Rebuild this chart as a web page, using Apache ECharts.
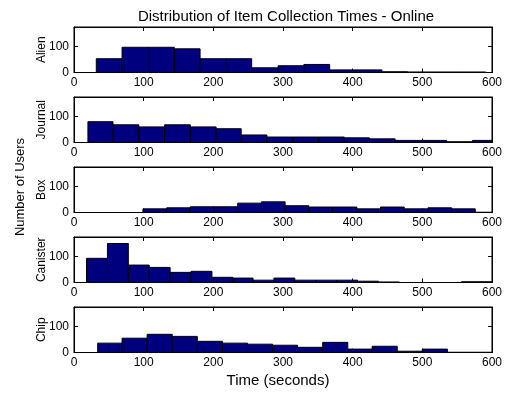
<!DOCTYPE html>
<html><head><meta charset="utf-8">
<script src="https://cdn.jsdelivr.net/npm/echarts@6/dist/echarts.min.js"></script>
<style>html,body{margin:0;padding:0;background:#fff}#c{width:505px;height:394px}</style>
</head><body><div id="c"></div>
<script>
// ---- data (seconds / counts) ----
const xTickValues = [0, 100, 200, 300, 400, 500, 600];
const yTickValues = [0, 100];
const panelNames = ['Alien', 'Journal', 'Box', 'Canister', 'Chip'];

const alienEdges = [32, 69, 106, 144, 181, 218, 255, 293, 330, 367, 405, 442, 479, 517, 554, 591];
const alienCounts = [53, 97, 97, 91, 53, 53, 18, 26, 31, 10, 10, 3, 2, 2, 2];

const journalEdges = [20, 56, 93, 130, 167, 204, 240, 277, 314, 351, 388, 424, 461, 498, 535, 572, 608];
const journalCounts = [80, 68, 60, 68, 60, 53, 29, 21, 21, 21, 18, 14, 8, 8, 3, 8];

const boxEdges = [99, 133, 167, 201, 235, 269, 303, 337, 371, 406, 440, 474, 508, 542, 576, 610];
const boxCounts = [14, 18, 22, 22, 36, 41, 26, 21, 21, 14, 21, 14, 18, 14, 1];

const canisterEdges = [18, 48, 78, 108, 138, 168, 198, 228, 257, 287, 317, 347, 377, 407, 437, 467, 497, 527, 556, 586, 616];
const canisterCounts = [93, 150, 67, 58, 39, 43, 20, 17, 9, 17, 9, 9, 9, 5, 2, 0, 0, 0, 3, 3];

const chipEdges = [34, 69, 105, 141, 177, 213, 249, 285, 321, 357, 393, 428, 464, 500, 536, 572, 608];
const chipCounts = [36, 55, 70, 62, 43, 36, 32, 28, 20, 39, 13, 24, 5, 13, 1, 1];

const panelEdges = [alienEdges, journalEdges, boxEdges, canisterEdges, chipEdges];
const panelCounts = [alienCounts, journalCounts, boxCounts, canisterCounts, chipCounts];

// ---- layout / style ----
const FF = '"Liberation Sans", Arial, Helvetica, sans-serif';
const tops = [27, 97, 167, 237, 307];
const H = 45.5;
const BAR = '#00007F';

const chart = echarts.init(document.getElementById('c'), null, {renderer: 'canvas'});
const grid = [], xAxis = [], yAxis = [], series = [];

function renderItem(params, api) {
  const a = api.coord([api.value(0), 0]);
  const b = api.coord([api.value(1), api.value(2)]);
  return {
    type: 'rect',
    shape: {x: a[0], y: b[1], width: b[0] - a[0], height: a[1] - b[1]},
    style: {fill: BAR, stroke: '#000', lineWidth: 1}
  };
}

panelNames.forEach((name, i) => {
  grid.push({left: 74, right: 13, top: tops[i], height: H, show: true,
    borderColor: '#000', borderWidth: 1, backgroundColor: '#fff'});
  const axLine = {show: true, onZero: false, lineStyle: {color: '#000', width: 1}};
  const tick = {show: true, inside: true, length: 4, lineStyle: {color: '#000', width: 1}};
  xAxis.push({type: 'value', gridIndex: i, min: 0, max: 600, interval: 100, position: 'bottom',
    axisLine: axLine, axisTick: tick, splitLine: {show: false},
    axisLabel: {color: '#000', fontSize: 12, fontFamily: FF, margin: 4,
      formatter: v => xTickValues.indexOf(v) >= 0 ? String(v) : ''}});
  xAxis.push({type: 'value', gridIndex: i, min: 0, max: 600, interval: 100, position: 'top',
    axisLine: axLine, axisTick: tick, splitLine: {show: false}, axisLabel: {show: false}});
  yAxis.push({type: 'value', gridIndex: i, min: 0, max: 175, interval: 100, position: 'left',
    axisLine: axLine, axisTick: tick, splitLine: {show: false},
    name: name, nameLocation: 'middle', nameGap: 26, nameRotate: 90, nameMoveOverlap: false,
    nameTextStyle: {color: '#000', fontSize: 12, fontFamily: FF},
    axisLabel: {color: '#000', fontSize: 12, fontFamily: FF, margin: 5,
      formatter: v => yTickValues.indexOf(v) >= 0 ? String(v) : ''}});
  yAxis.push({type: 'value', gridIndex: i, min: 0, max: 175, interval: 100, position: 'right',
    axisLine: axLine, axisTick: tick, splitLine: {show: false}, axisLabel: {show: false}});
  const edges = panelEdges[i], counts = panelCounts[i];
  series.push({type: 'custom', xAxisIndex: 2 * i, yAxisIndex: 2 * i, clip: true,
    renderItem: renderItem, encode: {x: [0, 1], y: 2},
    data: counts.map((c, j) => [edges[j], edges[j + 1], c])});
});

// overall y label on an invisible grid spanning all panels
grid.push({left: 74, right: 13, top: 27, bottom: 47, show: false});
xAxis.push({type: 'value', gridIndex: 5, show: false, min: 0, max: 600});
yAxis.push({type: 'value', gridIndex: 5, min: 0, max: 1, position: 'left',
  axisLine: {show: false}, axisTick: {show: false}, axisLabel: {show: false}, splitLine: {show: false},
  name: 'Number of Users', nameLocation: 'middle', nameGap: 47, nameRotate: 90,
  nameTextStyle: {color: '#000', fontSize: 13, fontFamily: FF}});

chart.setOption({
  animation: false,
  backgroundColor: '#fff',
  title: {text: 'Distribution of Item Collection Times - Online', left: 281, top: 4, textAlign: 'center',
    textStyle: {color: '#000', fontSize: 15, fontWeight: 'normal', fontFamily: FF}},
  grid, xAxis, yAxis, series,
  graphic: [
    {type: 'text', x: 278, y: 381,
      style: {text: 'Time (seconds)', fill: '#000', font: '15px ' + FF, textAlign: 'center', textVerticalAlign: 'middle'}}
  ]
});
</script></body></html>
